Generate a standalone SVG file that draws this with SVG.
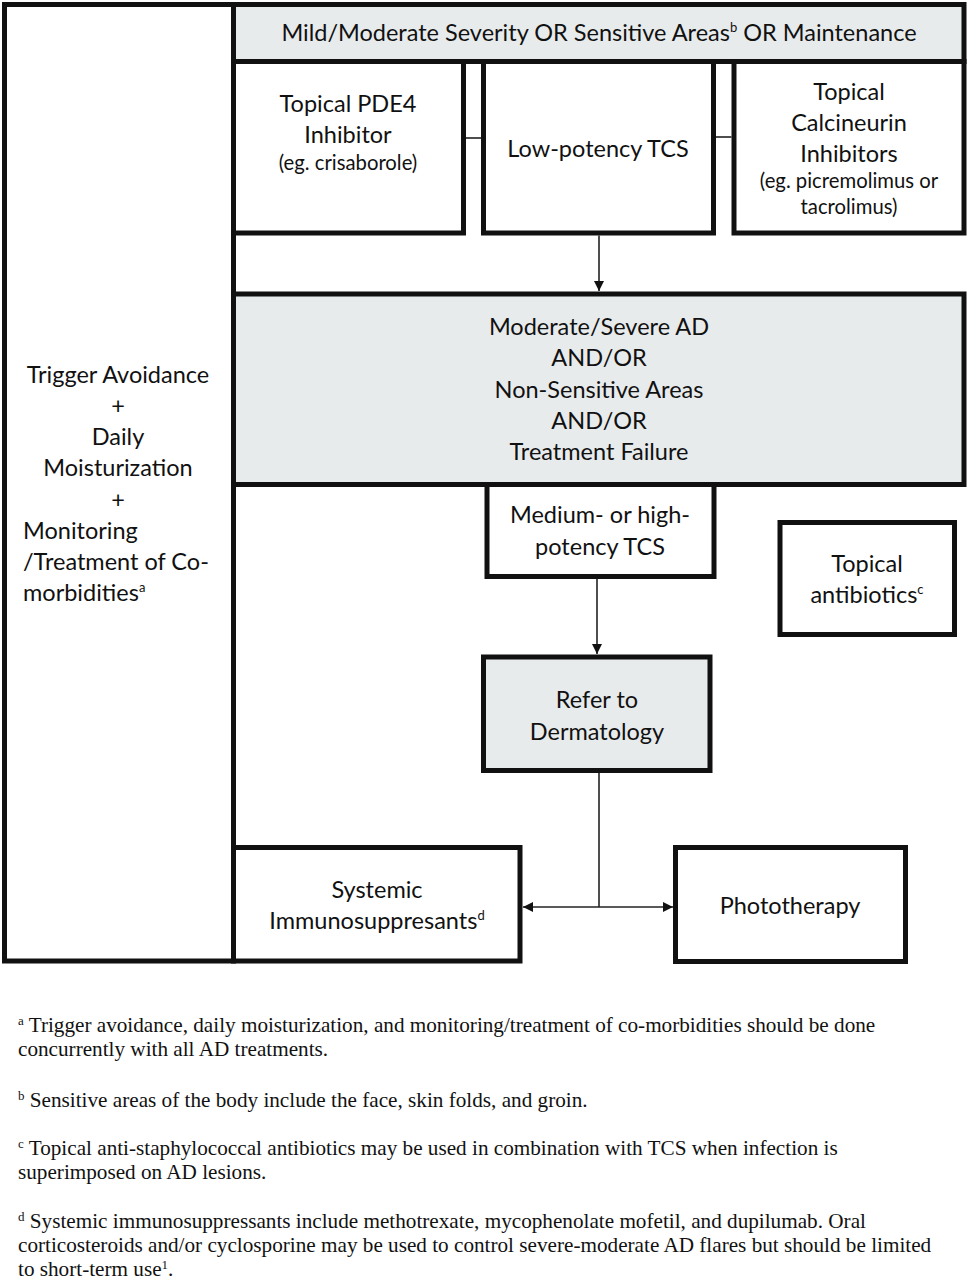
<svg xmlns="http://www.w3.org/2000/svg" width="968" height="1280" viewBox="0 0 968 1280">
<style>
.box{fill:#fff;stroke:#111;stroke-width:5;stroke-linejoin:miter}
.grey{fill:#e8ebec}
.t{font-family:Lato,"Open Sans","Liberation Sans",sans-serif;font-size:23.5px;fill:#111;text-anchor:middle}
.s{font-size:20.3px}
.l{text-anchor:start}
.fn{font-family:"Liberation Serif","Times New Roman",serif;font-size:21.2px;fill:#111}
.sup{font-size:13px}
.c{stroke:#222;stroke-width:1.6;fill:none}
</style>
<defs>
<marker id="ah" viewBox="0 0 10 10" refX="10" refY="5" markerWidth="10" markerHeight="10" markerUnits="userSpaceOnUse" orient="auto-start-reverse">
<path d="M0,0 L10,5 L0,10 z" fill="#111"/>
</marker>
</defs>

<g id="left">
<rect class="box" x="4.5" y="4.5" width="229" height="956.5"/>
<text class="t" x="118" y="383">Trigger Avoidance</text>
<text class="t" x="118" y="414">+</text>
<text class="t" x="118" y="445">Daily</text>
<text class="t" x="118" y="476">Moisturization</text>
<text class="t" x="118" y="508">+</text>
<text class="t l" x="23" y="539">Monitoring</text>
<text class="t l" x="23" y="570">/Treatment of Co-</text>
<text class="t l" x="23" y="601">morbidities<tspan class="sup" dy="-9">a</tspan></text>
</g>

<g id="top">
<rect class="box grey" x="233.5" y="4.5" width="730.5" height="57"/>
<text class="t" x="599" y="41">Mild/Moderate Severity OR Sensitive Areas<tspan class="sup" dy="-9">b</tspan><tspan dy="9"> OR Maintenance</tspan></text>
</g>

<g id="pde4">
<rect class="box" x="233.5" y="61.5" width="230" height="171.5"/>
<text class="t" x="348" y="112">Topical PDE4</text>
<text class="t" x="348" y="143">Inhibitor</text>
<text class="t s" x="348" y="170">(eg. crisaborole)</text>
</g>

<g id="low">
<rect class="box" x="483.5" y="61.5" width="230" height="171.5"/>
<text class="t" x="598" y="157">Low-potency TCS</text>
</g>

<g id="tci">
<rect class="box" x="734" y="61.5" width="230" height="171.5"/>
<text class="t" x="849" y="100">Topical</text>
<text class="t" x="849" y="131">Calcineurin</text>
<text class="t" x="849" y="162">Inhibitors</text>
<text class="t s" x="849" y="188">(eg. picremolimus or</text>
<text class="t s" x="849" y="214">tacrolimus)</text>
</g>

<g id="moderate">
<rect class="box grey" x="233.5" y="294" width="730.5" height="190.5"/>
<text class="t" x="599" y="335">Moderate/Severe AD</text>
<text class="t" x="599" y="366">AND/OR</text>
<text class="t" x="599" y="398">Non-Sensitive Areas</text>
<text class="t" x="599" y="429">AND/OR</text>
<text class="t" x="599" y="460">Treatment Failure</text>
</g>

<g id="medium">
<rect class="box" x="487" y="484.5" width="227" height="92"/>
<text class="t" x="600" y="523">Medium- or high-</text>
<text class="t" x="600" y="555">potency TCS</text>
</g>

<g id="antibiotics">
<rect class="box" x="780" y="522.5" width="174.5" height="112"/>
<text class="t" x="867" y="572">Topical</text>
<text class="t" x="867" y="603">antibiotics<tspan class="sup" dy="-9">c</tspan></text>
</g>

<g id="refer">
<rect class="box grey" x="483.5" y="657" width="226.5" height="113.5"/>
<text class="t" x="597" y="708">Refer to</text>
<text class="t" x="597" y="740">Dermatology</text>
</g>

<g id="systemic">
<rect class="box" x="233.5" y="847.5" width="286.5" height="113.5"/>
<text class="t" x="377" y="898">Systemic</text>
<text class="t" x="377" y="929">Immunosuppresants<tspan class="sup" dy="-9">d</tspan></text>
</g>

<g id="photo">
<rect class="box" x="675.5" y="847.5" width="230" height="114"/>
<text class="t" x="790" y="914">Phototherapy</text>
</g>

<g id="connectors">
<line class="c" x1="466" y1="138" x2="481" y2="138"/>
<line class="c" x1="716" y1="137" x2="731.5" y2="137"/>
<line class="c" x1="599" y1="235.5" x2="599" y2="291" marker-end="url(#ah)"/>
<line class="c" x1="597" y1="579" x2="597" y2="654" marker-end="url(#ah)"/>
<line class="c" x1="599" y1="773" x2="599" y2="907"/>
<line class="c" x1="523" y1="907" x2="673" y2="907" marker-start="url(#ah)" marker-end="url(#ah)"/>
</g>

<g id="footnotes">
<text class="fn" x="18" y="1032"><tspan class="sup" dy="-7">a</tspan><tspan dy="7"> Trigger avoidance, daily moisturization, and monitoring/treatment of co-morbidities should be done</tspan></text>
<text class="fn" x="18" y="1056">concurrently with all AD treatments.</text>
<text class="fn" x="18" y="1107"><tspan class="sup" dy="-7">b</tspan><tspan dy="7"> Sensitive areas of the body include the face, skin folds, and groin.</tspan></text>
<text class="fn" x="18" y="1155"><tspan class="sup" dy="-7">c</tspan><tspan dy="7"> Topical anti-staphylococcal antibiotics may be used in combination with TCS when infection is</tspan></text>
<text class="fn" x="18" y="1179">superimposed on AD lesions.</text>
<text class="fn" x="18" y="1228"><tspan class="sup" dy="-7">d</tspan><tspan dy="7"> Systemic immunosuppressants include methotrexate, mycophenolate mofetil, and dupilumab. Oral</tspan></text>
<text class="fn" x="18" y="1252">corticosteroids and/or cyclosporine may be used to control severe-moderate AD flares but should be limited</text>
<text class="fn" x="18" y="1276">to short-term use<tspan class="sup" dy="-7">1</tspan><tspan dy="7">.</tspan></text>
</g>
</svg>
